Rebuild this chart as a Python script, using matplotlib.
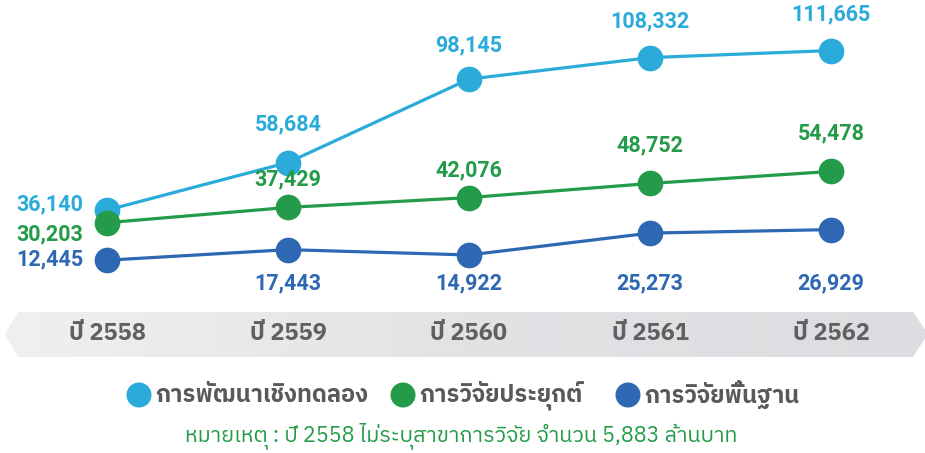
import matplotlib
matplotlib.use("Agg")
import matplotlib.pyplot as plt
import numpy as np
from matplotlib import font_manager
from matplotlib.ft2font import FT2Font
from matplotlib.patches import Polygon, Circle
from matplotlib.colors import LinearSegmentedColormap
import matplotlib.transforms as mtransforms

# ---------------- data ----------------
years = ["ปี 2558", "ปี 2559", "ปี 2560", "ปี 2561", "ปี 2562"]
series_names = ["การพัฒนาเชิงทดลอง", "การวิจัยประยุกต์", "การวิจัยพื้นฐาน"]
experimental = [36140, 58684, 98145, 108332, 111665]
applied = [30203, 37429, 42076, 48752, 54478]
basic = [12445, 17443, 14922, 25273, 26929]
note_text = "หมายเหตุ : ปี 2558 ไม่ระบุสาขาการวิจัย จำนวน 5,883 ล้านบาท"

colors = ["#2aabd9", "#239b48", "#2e68b3"]

# ---------------- fonts ----------------
def find_thai_font():
    preferred = []
    others = []
    for f in font_manager.fontManager.ttflist:
        try:
            cm = FT2Font(f.fname).get_charmap()
        except Exception:
            continue
        if 0x0E01 in cm and 0x0E31 in cm:
            if "Thai" in f.name or "Noto" in f.name:
                preferred.append(f.name)
            else:
                others.append(f.name)
    for n in preferred + others:
        return n
    return None

thai = find_thai_font()
fam = ([thai] if thai else []) + ["DejaVu Sans"]
numfam = ["Roboto", "DejaVu Sans"]
plt.rcParams["font.family"] = fam

W, H = 925, 453
fig = plt.figure(figsize=(W / 100, H / 100), dpi=100)

# background/decor axes in pixel coords
bg = fig.add_axes([0, 0, 1, 1], zorder=0)
bg.axis("off")

# band (arrow shaped) with gradient
band = Polygon([(5, 334), (18, 312), (913, 312), (928, 334), (913, 357), (18, 357)],
               closed=True, facecolor="none", edgecolor="none")
bg.add_patch(band)
grad = np.linspace(0, 1, 256).reshape(1, -1)
cmap = LinearSegmentedColormap.from_list("g", ["#f0f0f0", "#e2e3e5", "#dcdde0"])
im = bg.imshow(grad, extent=(0, W, 357, 312), cmap=cmap, aspect="auto", zorder=1)
im.set_clip_path(band)
bg.set_xlim(0, W)
bg.set_ylim(H, 0)

# main axes
ax = fig.add_axes([0, 0, 1, 1], zorder=2)
ax.patch.set_alpha(0)
ax.axis("off")
px_per_unit = 181.0
x0_px = 107.0
ax.set_xlim(-x0_px / px_per_unit, (W - x0_px) / px_per_unit)
slope = 2.113 / 1000.0  # px per value
zero_px = 286.5
ax.set_ylim((zero_px - H) / slope, zero_px / slope)

x = np.arange(len(years))
all_series = [experimental, applied, basic]
for vals, c in zip(all_series, colors):
    ax.plot(x, vals, color=c, lw=2.3, marker="o", markersize=18.5,
            markeredgewidth=0, zorder=3, solid_capstyle="round")

PT = 0.72  # px -> points
lab_kw = dict(fontsize=15.5, fontweight="bold", family=numfam,
              textcoords="offset points", va="center")

# first-year labels to the left
first_dy = [6, -12, 1]
for vals, c, dy in zip(all_series, colors, first_dy):
    ax.annotate(f"{vals[0]:,}", (x[0], vals[0]), xytext=(-24 * PT, dy * PT),
                ha="right", color=c, **lab_kw)

exp_dy = [38, 34, 36, 36]
for i, dy in zip(range(1, 5), exp_dy):
    ax.annotate(f"{experimental[i]:,}", (x[i], experimental[i]), xytext=(0, dy * PT),
                ha="center", color=colors[0], **lab_kw)
app_dy = [28, 27, 38, 38]
for i, dy in zip(range(1, 5), app_dy):
    ax.annotate(f"{applied[i]:,}", (x[i], applied[i]), xytext=(0, dy * PT),
                ha="center", color=colors[1], **lab_kw)
trans_b = mtransforms.blended_transform_factory(ax.transData, ax.transAxes)
for i in range(1, 5):
    ax.text(x[i], 1 - 283 / H, f"{basic[i]:,}", transform=trans_b, ha="center",
            va="center", color=colors[2], fontsize=15.5, fontweight="bold", family=numfam)

# year labels
for i, yl in enumerate(years):
    ax.text(x[i], 1 - 334 / H, yl, transform=trans_b, ha="center", va="center",
            color="#5f6062", fontsize=17, fontweight="bold")

# legend
leg_circles = [139, 403, 628]
for cx, c, name in zip(leg_circles, colors, series_names):
    bg.add_patch(Circle((cx, 395), 12.5, facecolor=c, edgecolor="none", zorder=3))
    bg.text(cx + 16, 395, name, ha="left", va="center", color="#58595b",
            fontsize=17, fontweight="bold", zorder=3)

bg.text(461, 436, note_text, ha="center", va="center", color="#239b48",
        fontsize=15.5, style="italic", zorder=3)

fig.savefig("out.png", dpi=100)
